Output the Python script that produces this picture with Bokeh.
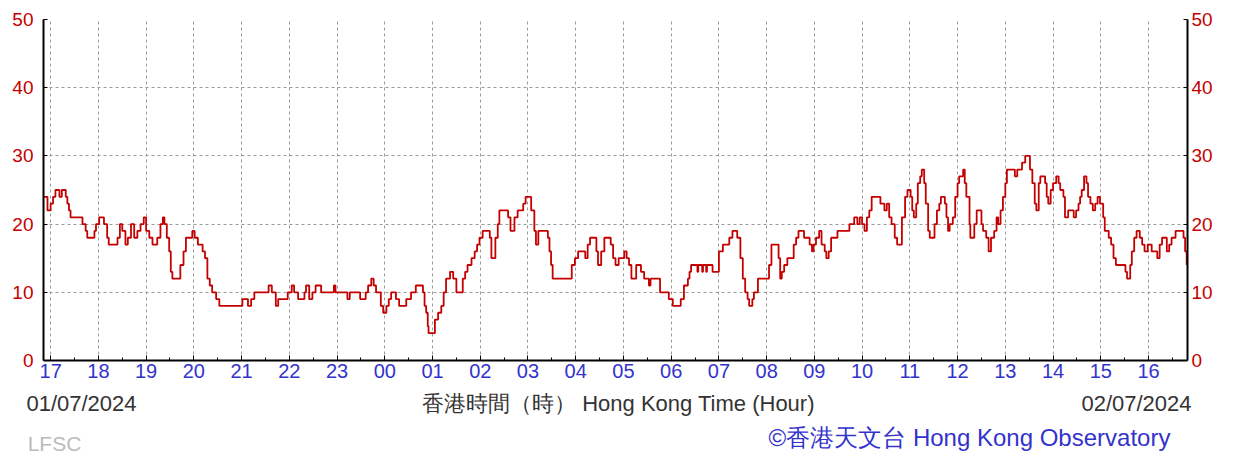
from bokeh.plotting import figure
from bokeh.models import Range1d, LinearAxis, FixedTicker, ColumnDataSource
from bokeh.embed import file_html
from bokeh.resources import INLINE

# ---- data ----
hour_labels = ["17", "18", "19", "20", "21", "22", "23", "00", "01", "02", "03", "04",
               "05", "06", "07", "08", "09", "10", "11", "12", "13", "14", "15", "16"]
y_ticks = [0, 10, 20, 30, 40, 50]

# minutes after 17:00 on 01/07/2024, and the wind value read at that minute (km/h)
minutes_from_1700 = [
    -9, -4, 0, 3, 6, 11, 14, 19, 21, 23, 25, 40, 44, 46, 55, 57, 61, 67, 71, 73, 84, 87, 90, 94, 97,
    101, 105, 109, 113, 117, 120, 124, 128, 134, 138, 141, 143, 146, 149, 151, 153, 163, 167, 170,
    178, 181, 185, 191, 194, 197, 200, 203, 208, 212, 241, 248, 252, 256, 274, 278, 283, 286, 298,
    303, 306, 311, 319, 321, 325, 329, 333, 340, 356, 358,
    373, 376, 389, 396, 399, 403, 406, 409, 415, 418, 422, 425, 428, 434, 438, 447, 453, 459, 468,
    470, 472, 474, 475, 483, 487, 491, 494, 497, 502, 506, 510, 518, 521, 524, 529, 533, 536, 539,
    543, 552, 554, 559, 562, 564, 575, 578, 583, 587, 594, 597, 604, 608, 610, 613, 625, 627, 629,
    631, 655, 659, 663, 672, 675, 678, 686, 688, 692, 696, 704, 707, 710, 714, 721, 724, 727, 730,
    736, 742, 746, 752, 754, 766, 777, 782, 792, 796, 801, 803, 805, 813, 814, 819, 820, 824, 825,
    832, 840, 845, 853, 857, 863, 867, 870, 873, 876, 878, 882, 884, 889, 903, 906, 915, 917, 919,
    922, 926, 934, 937, 940, 947, 954, 957, 959, 962, 966, 969, 973, 975, 978, 981, 989, 1004, 1010,
    1014, 1017, 1020, 1023, 1026, 1029, 1032, 1043, 1048, 1051, 1054, 1057, 1061, 1064,
    1067, 1070, 1074, 1077, 1081, 1083, 1085, 1088, 1090, 1093, 1095, 1098, 1100, 1103, 1105, 1111,
    1114, 1117, 1119, 1124, 1126, 1128, 1130, 1134, 1137, 1140, 1142, 1147, 1149, 1151, 1155, 1156,
    1161, 1164, 1170, 1172, 1176, 1179, 1182, 1186, 1189, 1191, 1194, 1197, 1200, 1202, 1212, 1215,
    1221, 1225, 1231, 1234, 1237, 1239, 1242, 1244, 1250, 1252, 1254, 1257, 1260, 1264, 1267, 1269,
    1273, 1275, 1279, 1286, 1289, 1292, 1294, 1296, 1299, 1302, 1304, 1307, 1310, 1313, 1316, 1319,
    1323, 1325, 1330, 1333, 1336, 1339, 1351, 1353, 1357, 1359, 1362, 1365, 1369, 1372, 1375, 1379,
    1384, 1391, 1394, 1397, 1403, 1406, 1409, 1414, 1424, 1426, 1428,
]
wind_kmh = [
    24, 22, 23, 24, 25, 24, 25, 24, 23, 22, 21, 20, 19, 18, 19, 20, 21, 20, 18, 17, 18, 20, 19, 17, 18,
    20, 18, 19, 20, 21, 19, 18, 17, 18, 20, 21, 20, 18, 16, 13, 12, 14, 16, 18,
    19, 18, 17, 16, 15, 12, 11, 10, 9, 8, 9, 8, 9, 10, 11, 10, 8, 9, 10,
    11, 10, 9, 10, 11, 9, 10, 11, 10, 11, 10,
    9, 10, 9, 10, 11, 12, 11, 10, 8, 7, 8, 9, 10, 9, 8, 9, 10, 11, 10,
    8, 7, 5, 4, 6, 7, 8, 10, 12, 13, 12, 10, 12, 13, 14, 15, 16, 17, 18,
    19, 18, 15, 18, 20, 22, 21, 19, 21, 22, 23, 24, 22, 19, 17, 19, 18, 16, 14,
    12, 14, 15, 16, 15, 17, 18, 16, 14, 16, 18, 17, 15, 14, 15, 16, 15, 14, 12,
    14, 13, 12, 11, 12, 10, 9, 8, 9, 11, 12, 13, 14, 13, 14, 13, 14, 13, 14,
    13, 16, 17, 18, 19, 18, 15, 12, 10, 9, 8, 9, 10, 12, 14, 17, 15, 12, 13,
    14, 15, 17, 18, 19, 18, 17, 16, 17, 18, 19, 17, 16, 15, 16, 18, 19, 20, 21,
    20, 21, 20, 19, 21, 22, 24, 23, 22, 23, 21, 20, 18, 17,
    17, 21, 24, 25, 24, 22, 21, 23, 26, 27, 28, 26, 23, 19, 18, 20,
    22, 23, 24, 23, 21, 19, 20, 21, 24, 26, 27, 28, 26, 24, 20, 18,
    20, 22, 20, 19, 18, 16, 18, 19, 21, 20, 22, 24, 26, 28, 27, 28,
    29, 30, 28, 26, 23, 22, 26, 27, 26, 24, 23, 25, 26, 27, 26, 25,
    24, 21, 22, 21, 22, 23, 24, 25, 27, 26, 24, 23, 22, 23, 24, 23,
    21, 19, 18, 17, 15, 14, 13, 12, 14, 16, 18, 19, 18, 17, 16, 17,
    16, 15, 17, 18, 16, 17, 18, 19, 18, 16, 14,
]

date_start = "01/07/2024"
date_end = "02/07/2024"
axis_title = "香港時間（時） Hong Kong Time (Hour)"
station = "LFSC"
credit = "©香港天文台 Hong Kong Observatory"

# ---- styling / layout ----
FONT = "Liberation Sans"
RED = "#c40000"
BLUE = "#3333cc"
W, H = 1247, 457
FL, FR, FT, FB = 43, 60, 19, 97          # borders around the plotting frame (px)

hour_ticks = [i * 60 for i in range(len(hour_labels))]
half_ticks = [t + 30 for t in hour_ticks]

p = figure(width=W, height=H, output_backend="svg", toolbar_location=None,
           x_range=Range1d(-9, 1429), y_range=Range1d(y_ticks[0], y_ticks[-1]),
           min_border_left=FL, min_border_right=FR, min_border_top=FT, min_border_bottom=FB,
           background_fill_color="white", border_fill_color="white")
p.outline_line_color = None
# a pixel-space horizontal range used only to place the caption texts under the chart
p.extra_x_ranges = {"px": Range1d(FL, W - FR)}

src = ColumnDataSource(dict(t=minutes_from_1700, v=wind_kmh))
p.step(x="t", y="v", source=src, mode="after", line_color=RED, line_width=1.8)

xa = p.xaxis[0]
xa.ticker = FixedTicker(ticks=hour_ticks, minor_ticks=half_ticks)
xa.major_label_overrides = {t: lab for t, lab in zip(hour_ticks, hour_labels)}
xa.major_label_text_color = BLUE
xa.major_label_text_font = FONT
xa.major_label_text_font_size = "20px"
xa.major_label_standoff = 3
xa.axis_line_color = "black"
xa.axis_line_width = 2
xa.major_tick_in = 5
xa.major_tick_out = 0
xa.minor_tick_in = 3
xa.minor_tick_out = 0
xa.major_tick_line_color = "black"
xa.minor_tick_line_color = "black"

def style_y(ax, standoff):
    ax.ticker = FixedTicker(ticks=y_ticks)
    ax.major_label_text_color = RED
    ax.major_label_text_font = FONT
    ax.major_label_text_font_size = "19px"
    ax.major_label_standoff = standoff
    ax.axis_line_color = "black"
    ax.axis_line_width = 2
    ax.major_tick_in = 4
    ax.major_tick_out = 0
    ax.major_tick_line_color = "black"
    ax.minor_tick_line_color = None

style_y(p.yaxis[0], 10)
ry = LinearAxis()
p.add_layout(ry, "right")
style_y(ry, 4)

p.xgrid.ticker = FixedTicker(ticks=hour_ticks)
for g in (p.xgrid[0], p.ygrid[0]):
    g.grid_line_color = "#9a9a9a"
    g.grid_line_dash = "3 3"
    g.grid_line_width = 1
p.ygrid.ticker = FixedTicker(ticks=y_ticks)

# ---- caption rows: label-only axes on the pixel-space range ----
def caption_axis(texts, centers, color, size, standoff):
    ax = LinearAxis(x_range_name="px")
    ax.ticker = FixedTicker(ticks=centers)
    ax.major_label_overrides = {c: t for c, t in zip(centers, texts)}
    ax.major_label_text_color = color
    ax.major_label_text_font = FONT
    ax.major_label_text_font_size = size
    ax.major_label_standoff = standoff
    ax.axis_line_color = None
    ax.major_tick_line_color = None
    ax.minor_tick_line_color = None
    p.add_layout(ax, "below")

caption_axis([date_start, axis_title, date_end], [81, 618, 1136], "#333333", "22px", 4)
caption_axis([credit], [969], BLUE, "24px", -1)
caption_axis([station], [54], "#bbbbbb", "21px", -28)

open("out.html", "w").write(file_html(p, INLINE))
